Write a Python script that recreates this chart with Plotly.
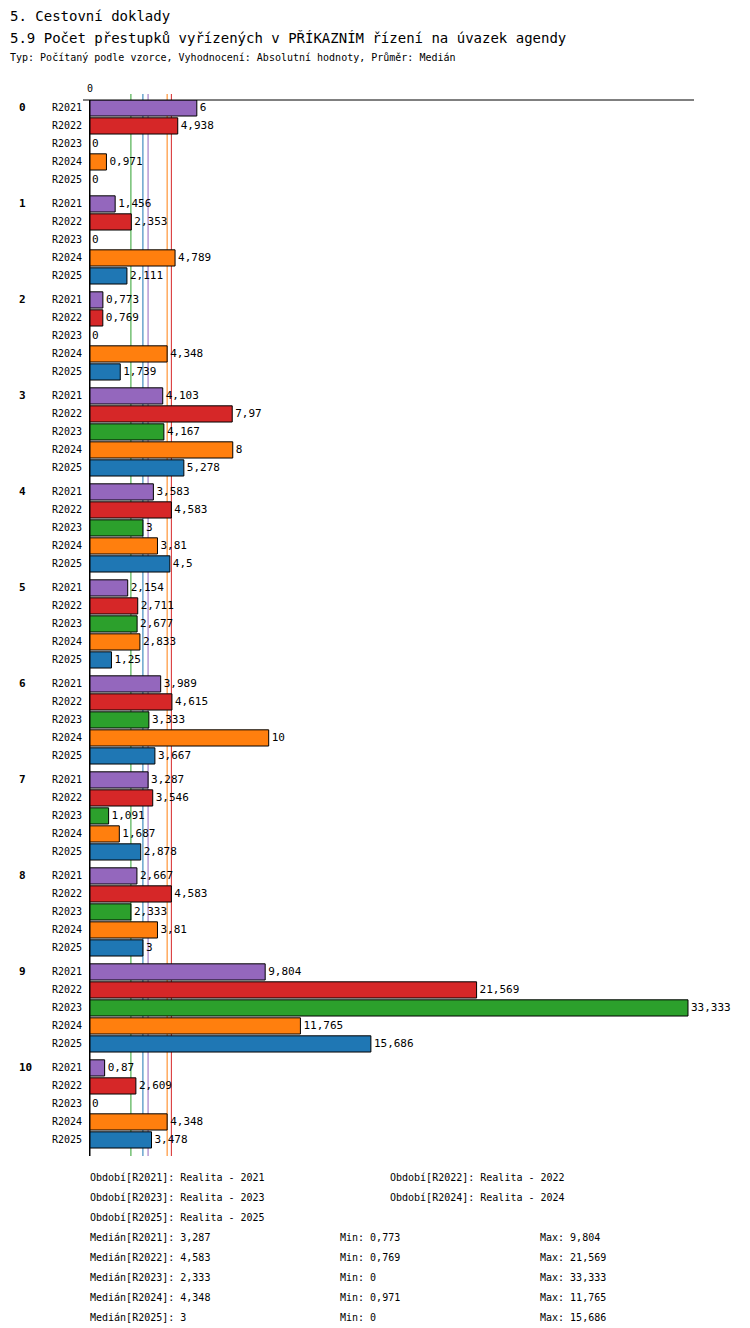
import plotly.graph_objects as go

series = ["R2021", "R2022", "R2023", "R2024", "R2025"]
colors = ["#9467bd", "#d62728", "#2ca02c", "#ff7f0e", "#1f77b4"]
groups = ["0", "1", "2", "3", "4", "5", "6", "7", "8", "9", "10"]

r2021 = [6, 1.456, 0.773, 4.103, 3.583, 2.154, 3.989, 3.287, 2.667, 9.804, 0.87]
r2022 = [4.938, 2.353, 0.769, 7.97, 4.583, 2.711, 4.615, 3.546, 4.583, 21.569, 2.609]
r2023 = [0, 0, 0, 4.167, 3, 2.677, 3.333, 1.091, 2.333, 33.333, 0]
r2024 = [0.971, 4.789, 4.348, 8, 3.81, 2.833, 10, 1.687, 3.81, 11.765, 4.348]
r2025 = [0, 2.111, 1.739, 5.278, 4.5, 1.25, 3.667, 2.878, 3, 15.686, 3.478]
values = [r2021, r2022, r2023, r2024, r2025]

medians = [3.287, 4.583, 2.333, 4.348, 3]
mins = [0.773, 0.769, 0, 0.971, 0]
maxs = [9.804, 21.569, 33.333, 11.765, 15.686]
period_names = ["Realita - 2021", "Realita - 2022", "Realita - 2023", "Realita - 2024", "Realita - 2025"]

W, H = 750, 1328
TOP, BOT, LEFT, RIGHT = 92, 1142, 81, 686
FONT = "DejaVu Sans Mono"


def fmt(v):
    s = ("%.3f" % v).rstrip("0").rstrip(".")
    return s.replace(".", ",")


def py(p):
    return 1 - (p - TOP) / (BOT - TOP)


def px(p):
    return (p - LEFT) / (RIGHT - LEFT)


step = 16 / 3
fig = go.Figure()
for i, name in enumerate(series):
    ys = [g * step + i for g in range(len(groups))]
    fig.add_trace(go.Bar(
        x=values[i], y=ys, orientation="h", name=name,
        marker=dict(color=colors[i], line=dict(color="black", width=1)),
        width=0.9, text=[fmt(v) for v in values[i]], textposition="outside",
        textfont=dict(family=FONT, size=11, color="black"), cliponaxis=False,
    ))

tickvals, ticktext = [], []
for g in range(len(groups)):
    for i, name in enumerate(series):
        tickvals.append(g * step + i)
        ticktext.append(name)

shapes = []
for i, m in enumerate(medians):
    shapes.append(dict(type="line", xref="x", yref="paper", x0=m, x1=m,
                       y0=py(1148), y1=py(86), line=dict(color=colors[i], width=1), layer="below"))
shapes.append(dict(type="line", xref="paper", yref="paper", x0=px(75), x1=1,
                   y0=1, y1=1, line=dict(color="black", width=1)))
shapes.append(dict(type="line", xref="x", yref="paper", x0=0, x1=0,
                   y0=py(1148), y1=1, line=dict(color="black", width=3)))

ann = []
def text(x, y, s, size=11, bold=False):
    ann.append(dict(xref="paper", yref="paper", x=px(x), y=py(y), text="<b>%s</b>" % s if bold else s,
                    showarrow=False, xanchor="left", yanchor="middle",
                    font=dict(family=FONT, size=size, color="black")))

text(0, 8, "5. Cestovní doklady", 14)
text(0, 30, "5.9 Počet přestupků vyřízených v PŘÍKAZNÍM řízení na úvazek agendy", 14)
text(0, 50, "Typ: Počítaný podle vzorce, Vyhodnocení: Absolutní hodnoty, Průměr: Medián", 10)
text(77, 81, "0", 10)
for g, lab in enumerate(groups):
    ann.append(dict(xref="paper", yref="y", x=px(9), y=g * step, text="<b>%s</b>" % lab,
                    showarrow=False, xanchor="left", font=dict(family=FONT, size=11, color="black")))
for i, name in enumerate(series):
    col = [80, 380][i % 2]
    text(col, 1169 + 20 * (i // 2), "Období[%s]: %s" % (name, period_names[i]), 10)
for i, name in enumerate(series):
    y = 1229 + 20 * i
    text(80, y, "Medián[%s]: %s" % (name, fmt(medians[i])), 10)
    text(330, y, "Min: %s" % fmt(mins[i]), 10)
    text(530, y, "Max: %s" % fmt(maxs[i]), 10)

fig.update_layout(
    width=W, height=H, showlegend=False, plot_bgcolor="white", paper_bgcolor="white",
    margin=dict(l=LEFT, r=W - RIGHT, t=TOP, b=H - BOT, pad=0),
    barmode="overlay", shapes=shapes, annotations=ann,
    font=dict(family=FONT, size=10, color="black"),
    xaxis=dict(range=[0, (RIGHT - LEFT) / 17.97], showgrid=False, showticklabels=False,
               zeroline=False, showline=False),
    yaxis=dict(range=[10 * step + 4 + 0.56, -0.44], tickvals=tickvals, ticktext=ticktext,
               showgrid=False, zeroline=False, ticks="", ticklabelstandoff=6,
               tickfont=dict(family=FONT, size=10)),
)
fig.write_html("out.html")
